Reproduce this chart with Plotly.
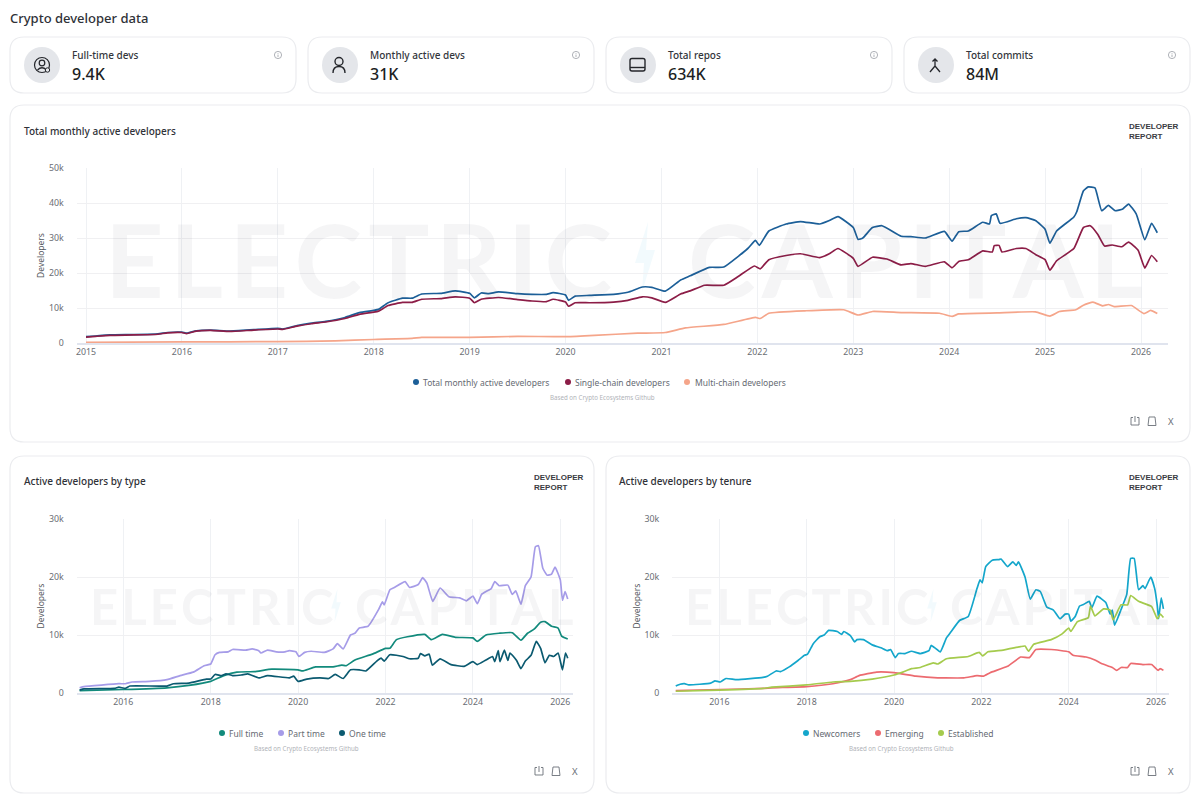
import plotly.graph_objects as go

W, H = 1200, 802

# ---------- data (years, thousands of developers) ----------
total_x = [2015.0,2015.1,2015.25,2015.5,2015.75,2015.85,2016.0,2016.05,2016.15,2016.3,2016.5,2016.75,2017.0,2017.05,2017.2,2017.35,2017.5,2017.7,2017.85,2018.0,2018.05,2018.15,2018.3,2018.4,2018.5,2018.7,2018.85,2019.0,2019.05,2019.12,2019.2,2019.3,2019.5,2019.65,2019.8,2019.87,2020.0,2020.03,2020.1,2020.25,2020.5,2020.65,2020.8,2020.9,2021.04,2021.2,2021.3,2021.5,2021.65,2021.9,2021.98,2022.02,2022.12,2022.3,2022.45,2022.65,2022.75,2022.84,2023.0,2023.05,2023.1,2023.2,2023.3,2023.5,2023.6,2023.75,2023.95,2024.03,2024.1,2024.2,2024.35,2024.42,2024.44,2024.49,2024.53,2024.7,2024.8,2024.9,2025.0,2025.05,2025.12,2025.3,2025.33,2025.4,2025.45,2025.52,2025.59,2025.66,2025.73,2025.81,2025.87,2025.95,2026.04,2026.11,2026.17]
total_y = [1.8,2.0,2.3,2.4,2.6,3.0,3.1,2.8,3.5,3.7,3.4,3.8,4.2,4.0,5.0,5.7,6.2,7.3,8.7,9.3,9.6,11.5,12.8,12.8,14.0,14.2,14.9,14.2,12.9,14.3,14.1,14.6,14.1,13.9,13.9,14.4,13.7,12.2,13.4,13.6,13.9,14.5,16.0,15.9,14.8,18.0,19.2,21.6,21.7,27.0,29.3,27.9,32.0,34.0,34.7,34.0,35.0,36.1,33.0,29.6,30.0,33.0,33.5,30.5,30.4,30.0,31.9,29.1,31.8,32.0,34.5,34.0,36.4,36.9,34.2,35.5,35.8,35.0,32.5,28.5,32.0,36.0,37.5,43.5,44.6,44.3,37.8,39.3,37.8,38.3,39.7,36.9,29.5,34.2,31.5]

single_x = [2015.0,2015.1,2015.25,2015.5,2015.75,2015.85,2016.0,2016.05,2016.15,2016.3,2016.5,2016.75,2017.0,2017.05,2017.2,2017.35,2017.5,2017.7,2017.85,2018.0,2018.05,2018.15,2018.3,2018.4,2018.5,2018.7,2018.85,2019.0,2019.05,2019.12,2019.3,2019.5,2019.65,2019.8,2019.87,2020.0,2020.03,2020.1,2020.25,2020.5,2020.65,2020.8,2020.9,2021.04,2021.2,2021.3,2021.45,2021.65,2021.8,2021.97,2022.03,2022.12,2022.3,2022.45,2022.65,2022.75,2022.84,2023.0,2023.05,2023.2,2023.35,2023.5,2023.6,2023.75,2023.95,2024.03,2024.1,2024.2,2024.35,2024.45,2024.47,2024.52,2024.55,2024.7,2024.8,2024.9,2025.0,2025.05,2025.12,2025.3,2025.4,2025.47,2025.55,2025.62,2025.7,2025.8,2025.87,2025.97,2026.04,2026.11,2026.17]
single_y = [1.7,1.9,2.2,2.3,2.5,2.9,3.0,2.7,3.4,3.6,3.3,3.7,4.0,3.9,4.8,5.5,6.0,7.0,8.2,8.8,9.1,10.7,11.6,11.6,12.5,12.7,13.2,12.8,11.5,12.5,13.0,12.4,12.0,11.8,12.5,11.7,10.5,11.5,11.5,11.7,12.2,13.2,12.9,11.6,14.0,14.9,16.5,16.5,19.0,22.0,21.2,23.8,25.0,25.5,24.4,25.5,27.0,24.2,21.9,24.5,24.0,22.3,22.7,21.9,23.2,21.5,23.3,23.8,26.3,26.0,27.8,27.9,26.0,27.0,27.0,25.3,23.8,20.8,23.5,27.0,33.0,33.5,31.0,27.7,28.0,27.5,28.8,26.5,21.4,25.0,23.2]

multi_x = [2015.0,2016.0,2017.0,2017.6,2018.0,2018.4,2018.5,2019.0,2019.5,2020.0,2020.3,2020.75,2021.04,2021.25,2021.65,2021.98,2022.03,2022.12,2022.5,2022.9,2023.05,2023.2,2023.5,2023.9,2024.03,2024.1,2024.5,2024.9,2025.05,2025.15,2025.32,2025.4,2025.5,2025.6,2025.66,2025.72,2025.9,2026.03,2026.1,2026.17]
multi_y = [0.2,0.3,0.4,0.6,1.0,1.3,1.6,1.6,1.9,1.8,2.2,2.8,3.0,4.3,5.3,7.3,7.0,8.5,9.2,9.5,8.0,9.0,8.7,8.5,7.6,8.3,8.6,8.9,7.7,9.0,9.5,10.8,11.7,10.6,11.0,10.4,10.7,8.4,9.3,8.4]

part_x = [2015.0,2015.1,2015.9,2016.05,2016.2,2016.6,2017.0,2017.3,2017.6,2017.85,2018.0,2018.1,2018.2,2018.4,2018.5,2018.8,2018.95,2019.1,2019.15,2019.3,2019.5,2019.7,2019.8,2019.95,2020.02,2020.15,2020.3,2020.6,2020.8,2020.9,2021.03,2021.2,2021.3,2021.4,2021.6,2021.85,2021.93,2021.97,2022.1,2022.2,2022.45,2022.55,2022.75,2022.85,2022.95,2023.08,2023.25,2023.45,2023.7,2023.85,2024.0,2024.1,2024.2,2024.3,2024.42,2024.5,2024.6,2024.8,2024.9,2024.98,2025.1,2025.2,2025.33,2025.43,2025.5,2025.6,2025.7,2025.8,2025.88,2026.0,2026.05,2026.11,2026.17]
part_y = [0.9,1.1,1.6,1.6,1.9,2.0,2.3,3.0,3.6,4.7,5.0,6.6,7.0,7.1,7.5,7.4,7.6,7.3,6.9,7.4,7.1,7.1,7.3,7.1,6.3,7.0,7.2,7.0,7.6,8.5,7.6,10.0,10.3,11.2,11.5,14.5,15.7,15.2,17.8,18.2,19.2,18.2,18.7,19.9,18.9,15.8,18.1,16.6,16.4,15.9,16.7,15.4,17.0,17.5,18.0,19.2,18.5,18.6,17.0,17.6,15.3,18.5,20.0,25.2,25.4,21.5,20.3,20.5,21.7,19.5,16.0,17.5,16.2]

full_x = [2015.0,2016.0,2017.0,2017.5,2018.0,2018.3,2018.6,2019.0,2019.4,2020.0,2020.1,2020.4,2020.8,2021.0,2021.1,2021.3,2021.7,2022.0,2022.1,2022.25,2022.5,2022.9,2023.05,2023.3,2023.6,2024.0,2024.1,2024.3,2024.6,2024.9,2025.1,2025.25,2025.4,2025.55,2025.65,2025.8,2025.95,2026.03,2026.17]
full_y = [0.4,0.6,0.9,1.3,2.0,3.0,3.6,3.7,4.1,4.0,3.8,4.5,4.5,4.8,4.7,5.7,6.7,7.7,7.7,9.2,9.7,10.1,9.2,10.1,9.6,9.5,8.9,10.0,10.3,10.4,9.1,10.3,11.0,12.2,12.3,11.5,11.2,9.8,9.3]

one_x = [2015.0,2015.1,2015.8,2015.9,2016.05,2016.15,2017.0,2017.15,2017.5,2017.9,2018.0,2018.1,2018.25,2018.35,2018.5,2018.7,2018.85,2019.1,2019.3,2019.8,2019.9,2020.0,2020.2,2020.5,2020.7,2020.85,2021.03,2021.2,2021.4,2021.55,2021.8,2021.9,2021.97,2022.1,2022.4,2022.55,2022.75,2022.8,2022.9,2023.0,2023.07,2023.25,2023.5,2023.8,2024.0,2024.1,2024.3,2024.45,2024.5,2024.58,2024.62,2024.72,2024.8,2024.85,2025.0,2025.1,2025.2,2025.33,2025.45,2025.55,2025.65,2025.75,2025.85,2025.95,2026.05,2026.12,2026.17]
one_y = [0.5,0.7,0.8,1.0,0.8,1.2,1.2,1.6,1.7,2.4,2.4,3.2,3.0,3.3,3.0,3.1,3.3,2.6,3.0,2.6,2.9,2.0,2.4,2.6,2.5,3.2,2.5,4.0,4.0,3.8,5.5,6.0,5.5,6.6,6.3,5.9,6.0,6.8,6.4,6.7,4.8,5.9,4.9,4.6,5.4,4.9,5.7,6.3,5.4,7.3,5.4,7.4,5.6,6.9,5.6,4.2,5.5,6.5,8.9,7.7,5.2,6.5,6.3,6.9,4.0,6.9,6.0]

new_x = [2015.0,2015.1,2015.2,2015.3,2015.8,2015.9,2016.02,2016.15,2016.4,2017.0,2017.1,2017.3,2017.4,2017.6,2017.8,2017.95,2018.02,2018.15,2018.3,2018.4,2018.5,2018.7,2018.8,2018.85,2019.0,2019.1,2019.15,2019.3,2019.5,2019.7,2019.85,2019.92,2020.03,2020.1,2020.25,2020.4,2020.6,2020.8,2020.85,2020.95,2021.06,2021.2,2021.3,2021.5,2021.7,2021.9,2021.97,2022.02,2022.1,2022.25,2022.4,2022.45,2022.6,2022.72,2022.8,2022.85,2023.0,2023.12,2023.25,2023.35,2023.5,2023.65,2023.8,2023.92,2024.0,2024.05,2024.15,2024.25,2024.35,2024.47,2024.53,2024.65,2024.85,2024.95,2025.0,2025.05,2025.2,2025.33,2025.42,2025.5,2025.6,2025.7,2025.75,2025.88,2025.97,2026.03,2026.06,2026.12,2026.17]
new_y = [1.2,1.5,1.6,1.4,1.7,2.1,1.9,2.5,2.3,2.7,2.9,3.8,3.7,4.5,5.6,6.5,6.7,8.5,9.7,10.0,10.8,10.6,10.1,10.6,9.9,8.8,9.2,9.2,8.3,7.8,7.3,7.5,6.1,6.8,6.8,7.2,6.8,7.3,8.2,7.7,7.1,9.5,10.5,12.5,13.2,18.0,19.5,19.0,21.8,22.9,23.0,23.1,21.8,22.6,22.0,22.6,20.0,16.2,17.8,17.5,14.8,14.3,12.8,13.6,13.6,12.4,13.2,15.0,15.3,15.8,14.7,16.7,15.6,13.6,14.3,11.7,14.4,17.0,23.2,23.2,17.8,18.5,18.0,20.0,18.0,15.0,12.8,16.4,14.5]

emerging_x = [2015.0,2016.0,2017.0,2017.2,2018.0,2018.6,2019.0,2019.2,2019.6,2020.0,2020.5,2021.0,2021.1,2021.6,2021.9,2022.05,2022.2,2022.6,2022.9,2023.1,2023.25,2023.6,2024.0,2024.1,2024.4,2024.6,2024.75,2025.0,2025.1,2025.2,2025.35,2025.42,2025.7,2025.9,2026.05,2026.1,2026.17]
emerging_y = [0.4,0.6,0.8,0.9,1.1,1.6,2.3,3.0,3.6,3.5,2.9,2.6,2.6,2.6,3.0,2.9,3.5,4.6,6.2,6.1,7.5,7.5,7.1,6.5,6.2,5.7,5.1,4.4,3.9,4.4,4.4,5.1,4.9,4.9,3.9,4.2,3.9]

est_x = [2015.0,2016.0,2017.0,2017.2,2018.0,2018.6,2019.0,2019.5,2020.0,2020.2,2020.4,2020.6,2020.9,2021.0,2021.2,2021.7,2021.95,2022.03,2022.15,2022.5,2022.9,2023.0,2023.08,2023.2,2023.6,2023.85,2024.0,2024.05,2024.2,2024.45,2024.5,2024.6,2024.8,2024.95,2025.02,2025.2,2025.35,2025.42,2025.6,2025.9,2026.03,2026.1,2026.17]
est_y = [0.3,0.5,0.8,1.0,1.4,1.9,2.0,2.4,3.1,3.6,4.2,4.4,5.2,5.0,5.9,6.3,7.0,6.4,7.1,7.4,8.0,8.1,7.2,8.4,9.2,10.2,11.2,10.6,12.3,13.0,15.0,13.3,14.5,14.3,12.6,15.2,15.2,16.8,15.8,14.9,12.8,13.6,13.0]

years_top = list(range(2015, 2027))
years_bottom = [2016, 2018, 2020, 2022, 2024, 2026]
top_yvals = [0, 10, 20, 30, 40, 50]
top_ylabels = ["0", "10k", "20k", "30k", "40k", "50k"]
bot_yvals = [0, 10, 20, 30]
bot_ylabels = ["0", "10k", "20k", "30k"]

stat_labels = ["Full-time devs", "Monthly active devs", "Total repos", "Total commits"]
stat_values = ["9.4K", "31K", "634K", "84M"]

FONT = "Noto Sans"
def fx(x): return x / W
def fy(y): return 1 - y / H

fig = go.Figure()
shapes, annos = [], []

def text(x, y, s, size, color="#333", anchor="left", weight=None, angle=0, family=FONT):
    f = dict(family=family, size=size, color=color)
    if weight: f["weight"] = weight
    annos.append(dict(x=fx(x), y=fy(y), xref="paper", yref="paper", text=s, showarrow=False,
                      xanchor=anchor, yanchor="middle", font=f, textangle=angle, borderpad=0, borderwidth=0))

def path(d, color="#333", width=1.2, fill=None, layer="above"):
    out = []
    for tok in d.split():
        if "," in tok:
            a, b = tok.split(",")
            out.append(f"{fx(float(a)):.5f},{fy(float(b)):.5f}")
        else:
            out.append(tok)
    shapes.append(dict(type="path", xref="paper", yref="paper", path=" ".join(out), layer=layer,
                       line=dict(color=color, width=width), fillcolor=fill or "rgba(0,0,0,0)"))

def circle(cx, cy, r, line="#333", width=1.0, fill=None, layer="above"):
    shapes.append(dict(type="circle", xref="paper", yref="paper", layer=layer,
                       x0=fx(cx - r), x1=fx(cx + r), y0=fy(cy + r), y1=fy(cy - r),
                       line=dict(color=line, width=width), fillcolor=fill or "rgba(0,0,0,0)"))

def card(x0, y0, x1, y1, r=14):
    d = (f"M {x0+r},{y0} L {x1-r},{y0} Q {x1},{y0} {x1},{y0+r} L {x1},{y1-r} Q {x1},{y1} {x1-r},{y1} "
         f"L {x0+r},{y1} Q {x0},{y1} {x0},{y1-r} L {x0},{y0+r} Q {x0},{y0} {x0+r},{y0} Z")
    path(d, color="#ebecef", width=1.2, fill="#ffffff", layer="below")

def dot(cx, cy, color):
    circle(cx, cy, 3, line=color, width=0, fill=color)

def info(cx, cy):
    circle(cx, cy, 3.6, line="#9a9ea6", width=0.8)
    path(f"M {cx},{cy-0.4} L {cx},{cy+2}", color="#9a9ea6", width=0.8)
    path(f"M {cx},{cy-2} L {cx},{cy-1.3}", color="#9a9ea6", width=0.8)

def actions(x0, y):
    c = "#6b7078"
    path(f"M {x0-2},{y-3.5} L {x0-4},{y-3.5} L {x0-4},{y+4} L {x0+4},{y+4} L {x0+4},{y-3.5} L {x0+2},{y-3.5}", color=c, width=0.9)
    path(f"M {x0},{y-5} L {x0},{y+1}", color=c, width=0.9)
    path(f"M {x0+14},{y-4} L {x0+20},{y-4} L {x0+21},{y+4.5} L {x0+13},{y+4.5} Z", color=c, width=0.9)
    text(x0 + 36, y, "X", 9.5, color=c, anchor="center")

WM = "rgba(60,60,70,0.05)"
def watermark(x_e, x_c, y, size, bolt_x, scale):
    for xx, word in ((x_e, "E\u200aL\u200aE\u200aC\u200aT\u200aR\u200aI\u200aC"), (x_c, "C\u200aA\u200aP\u200aI\u200aT\u200aA\u200aL")):
        annos.append(dict(x=fx(xx), y=fy(y), xref="paper", yref="paper", text=word,
                          showarrow=False, xanchor="left", yanchor="middle",
                          font=dict(family="Lato", size=size, color=WM, weight=700)))
    s = scale
    path(f"M {bolt_x+3*s},{y-36*s} L {bolt_x-10*s},{y+5*s} L {bolt_x-1*s},{y+5*s} L {bolt_x-3*s},{y+34*s} L {bolt_x+10*s},{y-8*s} L {bolt_x+1*s},{y-8*s} Z",
         color="rgba(0,0,0,0)", width=0, fill="rgba(130,205,240,0.1)", layer="below")

# ---------- cards ----------
for x0 in (10, 308, 606, 904):
    card(x0, 37, x0 + 286, 93)
card(10, 105, 1190, 442)
card(10, 456, 594, 793)
card(606, 456, 1190, 793)

# ---------- stat row ----------
text(10, 18, "Crypto developer data", 13, color="#2f3137", weight=500)
for i, x0 in enumerate((10, 308, 606, 904)):
    cx = x0 + 32
    circle(cx, 65, 18, line="#e4e6ea", width=0, fill="#e4e6ea")
    text(x0 + 62, 55, stat_labels[i], 10, color="#33363c", weight=500)
    text(x0 + 62, 74, stat_values[i], 16, color="#1d1f24", weight=500)
    info(x0 + 268, 55)
c = "#24262b"
circle(42, 65, 7.5, line=c, width=1.2)
circle(42, 63, 2.8, line=c, width=1.2)
path("M 37.5,70 Q 42,65.5 46.5,70", color=c)
circle(47.5, 70, 2.2, line=c, width=1, fill="#e4e6ea")
circle(339, 61.5, 4, line=c, width=1.4)
path("M 333,73 Q 333,66.5 339,66.5 Q 345,66.5 345,73", color=c, width=1.4)
path("M 632,58.5 L 643,58.5 Q 645,58.5 645,60.5 L 645,69 Q 645,71 643,71 L 632,71 Q 630,71 630,69 L 630,60.5 Q 630,58.5 632,58.5 Z", color=c, width=1.4)
path("M 630,67.5 L 645,67.5", color=c, width=1.4)
path("M 935,59 L 935,66 M 932.5,61.5 L 935,59 L 937.5,61.5 M 935,66 L 930,72 M 935,66 L 940,72", color=c, width=1.3)

# ---------- panel titles ----------
text(24, 131, "Total monthly active developers", 10, color="#2f3137", weight=500)
text(24, 481, "Active developers by type", 10, color="#2f3137", weight=500)
text(619, 481, "Active developers by tenure", 10, color="#2f3137", weight=500)
for x, y in ((1129, 127), (534, 478), (1129, 478)):
    text(x, y, "DEVELOPER", 8, color="#3a3c42", weight=700, family="Liberation Sans")
    text(x, y + 10, "REPORT", 8, color="#3a3c42", weight=700, family="Liberation Sans")

# ---------- watermarks ----------
watermark(103, 686, 258, 102, 645, 1.0)
watermark(88, 353, 606, 49, 336, 0.48)
watermark(683, 948, 606, 49, 932, 0.48)

# ---------- series ----------
def line(x, y, name, color, ax):
    fig.add_trace(go.Scatter(x=x, y=y, name=name, mode="lines", showlegend=False,
                             line=dict(color=color, width=1.7, shape="spline", smoothing=0.4), xaxis=ax[0], yaxis=ax[1]))

C_TOTAL, C_SINGLE, C_MULTI = "#1c5f98", "#8c1d47", "#f5a58a"
C_FULL, C_PART, C_ONE = "#128a7c", "#a69ce8", "#0b5a70"
C_NEW, C_EM, C_EST = "#14a6cb", "#ec6b70", "#a5cb4d"

line(total_x, total_y, "Total monthly active developers", C_TOTAL, ("x", "y"))
line(single_x, single_y, "Single-chain developers", C_SINGLE, ("x", "y"))
line(multi_x, multi_y, "Multi-chain developers", C_MULTI, ("x", "y"))
line(full_x, full_y, "Full time", C_FULL, ("x2", "y2"))
line(part_x, part_y, "Part time", C_PART, ("x2", "y2"))
line(one_x, one_y, "One time", C_ONE, ("x2", "y2"))
line(new_x, new_y, "Newcomers", C_NEW, ("x3", "y3"))
line(emerging_x, emerging_y, "Emerging", C_EM, ("x3", "y3"))
line(est_x, est_y, "Established", C_EST, ("x3", "y3"))

# ---------- legends + source notes ----------
def legend(items, y):
    for dx, tx, s, col in items:
        dot(dx, y, col)
        text(tx, y, s, 8.5, color="#666a72")

legend([(416, 423, "Total monthly active developers", C_TOTAL),
        (568, 575, "Single-chain developers", C_SINGLE),
        (687, 695, "Multi-chain developers", C_MULTI)], 382)
legend([(222, 229, "Full time", C_FULL), (281, 288, "Part time", C_PART), (342, 349, "One time", C_ONE)], 733)
legend([(806, 813, "Newcomers", C_NEW), (878, 885, "Emerging", C_EM), (941, 948, "Established", C_EST)], 733)
text(603, 397, "Based on Crypto Ecosystems Github", 6.2, color="#b0b3b8", anchor="center")
text(306, 748, "Based on Crypto Ecosystems Github", 6.2, color="#b0b3b8", anchor="center")
text(901, 748, "Based on Crypto Ecosystems Github", 6.2, color="#b0b3b8", anchor="center")
actions(1135, 421)
actions(539, 771)
actions(1135, 771)

# ---------- axes ----------
def xaxis(l, r, x_a, x_b, vals):
    (p0, yr0), (p1, yr1) = x_a, x_b
    k = (yr1 - yr0) / (p1 - p0)
    return dict(domain=[fx(l), fx(r)], range=[yr0 + (l - p0) * k, yr0 + (r - p0) * k],
                tickmode="array", tickvals=vals, ticktext=[str(v) for v in vals],
                showgrid=True, gridcolor="#eff1f4", gridwidth=1, zeroline=False,
                showline=True, linecolor="#e0e4ee", linewidth=1.5,
                ticks="", tickfont=dict(family=FONT, size=8.8, color="#6a6d73"))

def yaxis(top, bottom, vals, labels, xname):
    return dict(domain=[fy(bottom), fy(top)], range=[0, vals[-1]], anchor=xname,
                tickmode="array", tickvals=vals, ticktext=labels, showgrid=True, gridcolor="#f0f0f2", gridwidth=1,
                zeroline=False, showline=False, ticks="outside", ticklen=10, tickcolor="rgba(0,0,0,0)",
                tickfont=dict(family=FONT, size=8.8, color="#6a6d73"),
                title=dict(text="Developers", standoff=2, font=dict(family=FONT, size=8.5, color="#55585e")))

fig.update_layout(
    width=W, height=H, autosize=False, margin=dict(l=0, r=0, t=0, b=0, autoexpand=False),
    paper_bgcolor="#ffffff", plot_bgcolor="rgba(0,0,0,0)", showlegend=False,
    shapes=shapes, annotations=annos,
    xaxis=xaxis(76.5, 1168, (86, 2015), (1141, 2026), years_top) | dict(anchor="y"),
    yaxis=yaxis(168, 343, top_yvals, top_ylabels, "x"),
    xaxis2=xaxis(76.5, 573, (123.3, 2016), (560.3, 2026), years_bottom) | dict(anchor="y2"),
    yaxis2=yaxis(519, 693, bot_yvals, bot_ylabels, "x2"),
    xaxis3=xaxis(672, 1169, (719.4, 2016), (1156, 2026), years_bottom) | dict(anchor="y3"),
    yaxis3=yaxis(519, 693, bot_yvals, bot_ylabels, "x3"),
)
fig.write_html("out.html", config=dict(displayModeBar=False),
               post_script="document.body.style.margin='0';document.documentElement.style.overflow='hidden';")
